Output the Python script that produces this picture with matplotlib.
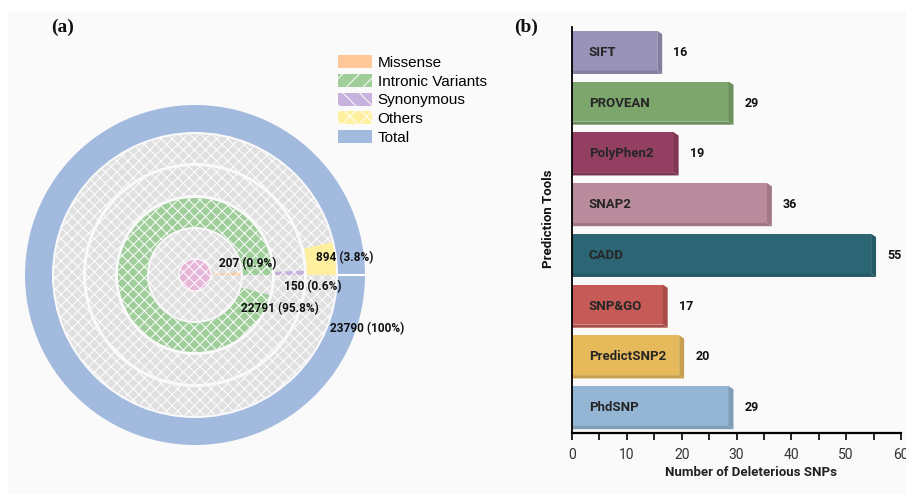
import numpy as np
import matplotlib.pyplot as plt
import matplotlib.colors as mcolors
from matplotlib.patches import Wedge, Circle, Rectangle, Polygon, Patch

plt.rcParams['font.family'] = ['Roboto', 'DejaVu Sans']
plt.rcParams['hatch.linewidth'] = 0.7

# variant classes in the SNP dataset (rings, inner to outer)
variant_types = ['Missense', 'Intronic Variants', 'Synonymous', 'Others', 'Total']
variant_counts = [207, 22791, 150, 894, 23790]

# deleterious SNPs reported by each prediction tool
tools = ['SIFT', 'PROVEAN', 'PolyPhen2', 'SNAP2', 'CADD', 'SNP&GO',
         'PredictSNP2', 'PhdSNP']
deleterious = [16, 29, 19, 36, 55, 17, 20, 29]

ring_colors = ['#ffc898', '#9fce9a', '#c6b2dc', '#fff0a0', '#a3badf']
legend_hatch = [None, '//', '\\\\', 'xx', None]
ring_radii = [(18, 46), (48, 77), (80, 109), (112, 141), (143, 170)]
bar_colors = ['#9a93b9', '#7da66c', '#933f62', '#ba8b9c', '#2c6675',
              '#c55a56', '#e6ba5b', '#94b6d4']

W, H = 906, 494
fig = plt.figure(figsize=(W / 100, H / 100), dpi=100)
fig.patches.append(Rectangle((8 / W, 0), 1 - 8 / W, 1 - 12 / H,
                             transform=fig.transFigure, color='#fafafa',
                             zorder=-10))

# ---- (a) radial bars ----
cx, cy, R = 195, 275, 185
ax1 = fig.add_axes([(cx - R) / W, (H - cy - R) / H, 2 * R / W, 2 * R / H])
ax1.set_xlim(-R, R)
ax1.set_ylim(-R, R)
ax1.axis('off')

total = variant_counts[-1]

# grey background tracks
for i, (r0, r1) in enumerate(ring_radii[:4]):
    inner = 0 if i == 0 else r0
    ax1.add_patch(Wedge((0, 0), r1, 0, 360, width=r1 - inner,
                        facecolor='#e0e0e0', edgecolor='white', hatch='xxx',
                        lw=0))
ax1.add_patch(Circle((0, 0), 16, facecolor='#e6b6d9', edgecolor='white',
                     hatch='xxx', lw=0.8))

for i, (name, n) in enumerate(zip(variant_types, variant_counts)):
    r0, r1 = ring_radii[i]
    ang = 360 * n / total
    hatch = None if name in ('Total', 'Others') else 'xxx'
    ax1.add_patch(Wedge((0, 0), r1, 0, ang, width=r1 - r0,
                        facecolor=ring_colors[i], edgecolor='white',
                        hatch=hatch, lw=0))
ax1.plot([ring_radii[-1][0], ring_radii[-1][1]], [0, 0], color='white', lw=1.5)

label_pos = [(53, 11), (85, -34), (118, -12), (150, 17), (172, -54)]
for (lx, ly), n in zip(label_pos, variant_counts):
    pct = 100 * n / total
    txt = f'{n} ({pct:.0f}%)' if n == total else f'{n} ({pct:.1f}%)'
    ax1.text(lx, ly, txt, ha='center', va='center', fontsize=8.6,
             fontweight='bold', color='#111111')

handles = [Patch(facecolor=c, edgecolor='white', hatch=h, lw=0, label=t)
           for c, h, t in zip(ring_colors, legend_hatch, variant_types)]
fig.legend(handles=handles, loc='upper left',
           bbox_to_anchor=(338 / W, 1 - 55 / H), frameon=False,
           borderpad=0, borderaxespad=0, handlelength=2.2,
           handleheight=0.92, handletextpad=0.4, labelspacing=0.27,
           prop={'family': 'Liberation Sans', 'size': 11})

# ---- (b) horizontal bars with bevel ----
ax2 = fig.add_axes([572 / W, 61 / H, 329 / W, 406 / H])
ax2.set_facecolor('none')
ax2.set_xlim(0, 60)
ax2.set_ylim(7.5, -0.5)

h, dx, dy = 0.85, 0.45, 0.065
for i, (t, v, c) in enumerate(zip(tools, deleterious, bar_colors)):
    top, bot = i - h / 2, i + h / 2
    side = tuple(np.array(mcolors.to_rgb(c)) * 0.86)
    ax2.add_patch(Rectangle((0, top), v - dx, h - dy, facecolor=c, lw=0,
                            clip_on=False))
    ax2.add_patch(Polygon([(v - dx, top), (v + dx, top + dy), (v + dx, bot),
                           (v - dx, bot - dy)], closed=True, facecolor=side,
                          lw=0, clip_on=False))
    ax2.add_patch(Polygon([(0, bot - dy), (v - dx, bot - dy), (v + dx, bot),
                           (0, bot)], closed=True, facecolor=side, lw=0,
                          clip_on=False))
    ax2.text(3.1, i, t, ha='left', va='center', fontsize=9.5,
             fontweight='bold', color='#262626')
    ax2.annotate(str(v), (v + dx, i), xytext=(8, 0),
                 textcoords='offset points', ha='left', va='center',
                 fontsize=9, fontweight='bold', color='#111111')

for s in ('top', 'right'):
    ax2.spines[s].set_visible(False)
ax2.spines['left'].set_linewidth(1.3)
ax2.spines['bottom'].set_linewidth(1.6)
ax2.set_yticks([])
ax2.set_xticks(np.arange(0, 61, 10))
ax2.set_xticks(np.arange(5, 60, 10), minor=True)
ax2.tick_params(axis='x', which='both', direction='out', length=5,
                width=1.2, labelsize=10, pad=6, labelcolor='#333333')
ax2.set_xlabel('Number of Deleterious SNPs', fontsize=9.5, fontweight='bold',
               color='#222222')
ax2.xaxis.set_label_coords(0.544, -0.082)
ax2.set_ylabel('Prediction Tools', fontsize=9.5, fontweight='bold',
               color='#111111')
ax2.yaxis.set_label_coords(-0.052, 0.527)

for x, lab in [(63, '(a)'), (526, '(b)')]:
    fig.text(x / W, 1 - 27 / H, lab, ha='center', va='center', fontsize=14,
             fontweight='bold', family='Liberation Serif', color='#111111')

fig.savefig('out.png', dpi=100)
